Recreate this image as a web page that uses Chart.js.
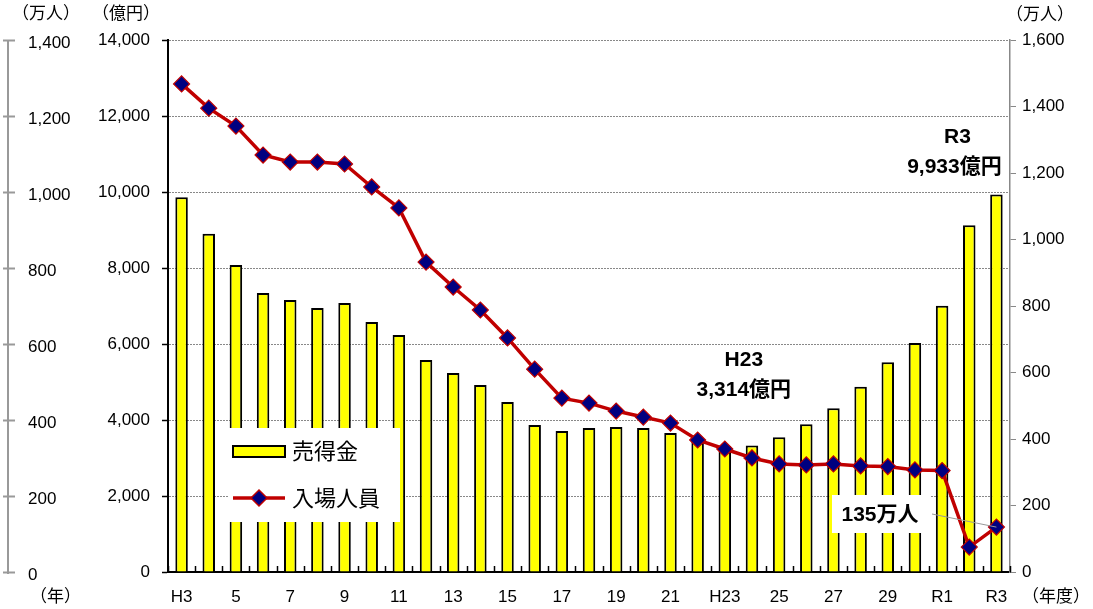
<!DOCTYPE html>
<html>
<head>
<meta charset="utf-8">
<script src="https://cdn.jsdelivr.net/npm/chart.js@4.4.1/dist/chart.umd.min.js"></script>
<style>
  html, body { margin: 0; padding: 0; background: #fff; }
</style>
</head>
<body>
<canvas id="myChart" width="1093" height="609"></canvas>
<script>
// 年度
var years = ['H3','H4','H5','H6','H7','H8','H9','H10','H11','H12','H13','H14','H15','H16','H17','H18',
             'H19','H20','H21','H22','H23','H24','H25','H26','H27','H28','H29','H30','R1','R2','R3']
var yearTicks = ['H3','','5','','7','','9','','11','','13','','15','','17','','19','','21','',
                 'H23','','25','','27','','29','','R1','','R3']

// 売得金（億円）
var sales = [9862, 8900, 8080, 7343, 7159, 6948, 7080, 6580, 6238, 5580, 5238, 4922, 4474, 3869, 3711, 3790,
             3816, 3790, 3658, 3450, 3314, 3329, 3546, 3887, 4309, 4878, 5519, 6027, 7009, 9125, 9933]

// 入場人員（万人）
var visitors = [1468, 1395, 1341, 1254, 1233, 1233, 1227, 1158, 1095, 932, 857, 788, 704, 610, 523, 508,
                484, 466, 448, 397, 370, 343, 325, 322, 325, 319, 317, 307, 305, 75, 135]

// 左端の軸（万人）
var leftTicks = [0, 200, 400, 600, 800, 1000, 1200, 1400]

var FONT = "'Liberation Sans', 'Noto Sans CJK JP', sans-serif"
var RED = '#C00000'
var NAVY = '#000080'

function fmt(v){ return Number(v).toLocaleString('en-US') }

const overlay = {
    id: 'overlay',
    afterDatasetsDraw(chart){
        const ctx = chart.ctx
        const a = chart.chartArea
        const x = chart.scales.x, y = chart.scales.y, y2 = chart.scales.y2
        const step = x.getPixelForValue(1) - x.getPixelForValue(0)
        ctx.save()

        // x軸の内向き目盛
        ctx.strokeStyle = '#000'
        ctx.lineWidth = 1.5
        for(var i = 0; i <= years.length; i++){
            var px = Math.round(x.getPixelForValue(i) - step/2) + 0.5
            ctx.beginPath()
            ctx.moveTo(px, a.bottom)
            ctx.lineTo(px, a.bottom - 6)
            ctx.stroke()
        }

        // 左端の軸
        ctx.strokeStyle = '#999'
        ctx.lineWidth = 2
        ctx.beginPath()
        ctx.moveTo(8, y.getPixelForValue(0) + 2)
        ctx.lineTo(8, y.getPixelForValue(14000))
        ctx.stroke()
        ctx.fillStyle = '#000'
        ctx.font = '17px ' + FONT
        ctx.textAlign = 'left'
        ctx.textBaseline = 'middle'
        leftTicks.forEach(v => {
            var py = Math.round(y.getPixelForValue(v*10)) + 0.5
            ctx.beginPath()
            ctx.moveTo(3, py)
            ctx.lineTo(15, py)
            ctx.stroke()
            ctx.fillText(fmt(v), 28, py + 3)
        })

        // 単位
        ctx.font = '17px ' + FONT
        ctx.textAlign = 'left'
        ctx.fillText('（万人）', 12, 14)
        ctx.fillText('（億円）', 92, 14)
        ctx.fillText('（万人）', 1006, 15)
        ctx.fillText('（年）', 30, 597)
        ctx.fillText('（年度）', 1022, 597)

        // 注記
        ctx.font = 'bold 21px ' + FONT
        ctx.textAlign = 'center'
        var h23 = x.getPixelForValue(20)
        ctx.fillText('H23', h23 + 19, 360)
        ctx.fillText('3,314億円', h23 + 19, 390)
        var r3 = x.getPixelForValue(30)
        ctx.fillText('R3', r3 - 39, 137)
        ctx.fillText('9,933億円', r3 - 42, 167)

        ctx.strokeStyle = '#999'
        ctx.lineWidth = 1
        ctx.beginPath()
        ctx.moveTo(932, 514)
        ctx.lineTo(r3, y2.getPixelForValue(visitors[30]))
        ctx.stroke()
        ctx.fillStyle = '#fff'
        ctx.fillRect(832, 495, 98, 38)
        ctx.fillStyle = '#000'
        ctx.fillText('135万人', 880, 515)

        // 凡例
        ctx.fillStyle = '#fff'
        ctx.fillRect(228, 428, 172, 94)
        ctx.fillStyle = '#FFFF00'
        ctx.strokeStyle = '#000'
        ctx.lineWidth = 2
        ctx.fillRect(233, 446, 52, 11)
        ctx.strokeRect(233, 446, 52, 11)
        ctx.strokeStyle = RED
        ctx.lineWidth = 3.5
        ctx.beginPath()
        ctx.moveTo(233, 498)
        ctx.lineTo(285, 498)
        ctx.stroke()
        ctx.fillStyle = NAVY
        ctx.lineWidth = 1.5
        ctx.beginPath()
        ctx.moveTo(259, 490); ctx.lineTo(267, 498); ctx.lineTo(259, 506); ctx.lineTo(251, 498)
        ctx.closePath()
        ctx.fill(); ctx.stroke()
        ctx.fillStyle = '#000'
        ctx.font = '22px ' + FONT
        ctx.textAlign = 'left'
        ctx.fillText('売得金', 292, 453)
        ctx.fillText('入場人員', 292, 500)

        ctx.restore()
    }
}

const ctx = document.getElementById('myChart')

var myChart = new Chart(ctx, {
    data: {
        labels: years,
        datasets: [
            {
                type: 'line',
                label: '入場人員',
                data: visitors,
                yAxisID: 'y2',
                order: 0,
                borderColor: RED,
                borderWidth: 3.5,
                pointStyle: 'rectRot',
                pointRadius: 8,
                pointBackgroundColor: NAVY,
                pointBorderColor: RED,
                pointBorderWidth: 1.2,
                tension: 0
            },
            {
                type: 'bar',
                label: '売得金',
                data: sales,
                yAxisID: 'y',
                order: 1,
                backgroundColor: '#FFFF00',
                borderColor: '#000',
                borderWidth: 2,
                barPercentage: 0.46,
                categoryPercentage: 1
            }
        ]
    },
    options: {
        responsive: false,
        animation: false,
        layout: { padding: { top: 40, left: 0, right: 0, bottom: 0 } },
        plugins: {
            legend: { display: false },
            tooltip: { enabled: false }
        },
        scales: {
            x: {
                offset: true,
                grid: { display: false },
                border: { color: '#000', width: 2 },
                ticks: {
                    autoSkip: false,
                    maxRotation: 0,
                    padding: 7,
                    color: '#000',
                    font: { family: FONT, size: 17 },
                    callback: (v, i) => yearTicks[i]
                },
                afterFit: s => { s.height = 37 }
            },
            y: {
                position: 'left',
                min: 0,
                max: 14000,
                border: { color: '#000', width: 2, dash: [2, 1] },
                grid: {
                    color: '#888',
                    lineWidth: 1,
                    tickColor: '#000',
                    tickLength: 6,
                    tickWidth: 1.5,
                    tickBorderDash: []
                },
                ticks: {
                    stepSize: 2000,
                    padding: 12,
                    color: '#000',
                    font: { family: FONT, size: 17 },
                    callback: v => fmt(v)
                },
                afterFit: s => { s.width = 168 }
            },
            y2: {
                position: 'right',
                min: 0,
                max: 1600,
                border: { color: '#888', width: 1.5 },
                grid: {
                    drawOnChartArea: false,
                    tickColor: '#888',
                    tickLength: 6,
                    tickWidth: 1
                },
                ticks: {
                    stepSize: 200,
                    padding: 6,
                    color: '#000',
                    font: { family: FONT, size: 17 },
                    callback: v => fmt(v)
                },
                afterFit: s => { s.width = 83 }
            }
        }
    },
    plugins: [overlay]
})
</script>
</body>
</html>
